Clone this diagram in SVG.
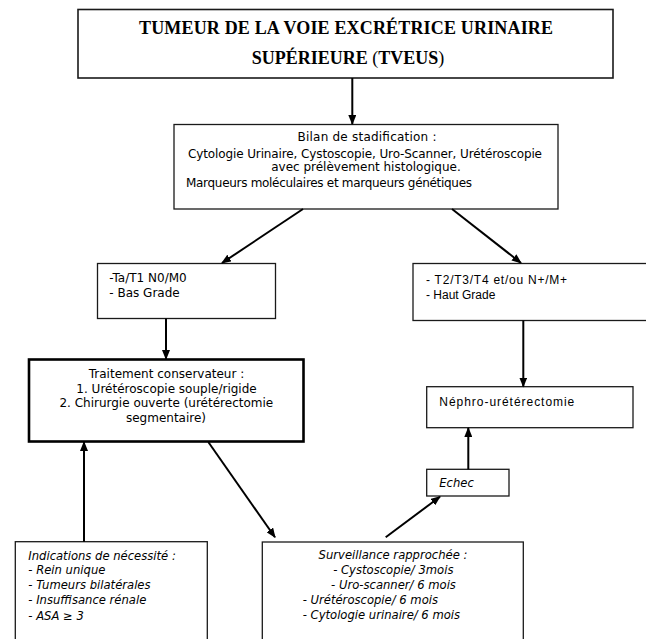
<svg xmlns="http://www.w3.org/2000/svg" width="646" height="639" viewBox="0 0 646 639">
<style>
.box{fill:#fff;stroke:#1a1a1a;stroke-width:1.3}
.thick{fill:#fff;stroke:#000;stroke-width:2.6}
.t{font-family:"DejaVu Sans",Verdana,sans-serif;font-size:12px;fill:#000}
.i{font-family:"DejaVu Sans",Verdana,sans-serif;font-size:11.6px;font-style:italic;fill:#000}
.a{font-family:"Liberation Sans",Arial,sans-serif;font-size:12px;fill:#000}
.title{font-family:"Liberation Serif","Times New Roman",serif;font-size:18px;font-weight:bold;fill:#000}
.c{text-anchor:middle}
.conn line{stroke:#000;stroke-width:2;fill:none;marker-end:url(#ah)}
</style>
<defs>
<marker id="ah" viewBox="0 0 10 8" refX="9" refY="4" markerWidth="10" markerHeight="8" markerUnits="userSpaceOnUse" orient="auto">
<path d="M0,0 L10,4 L0,8 z" fill="#000"/>
</marker>
</defs>
<rect width="646" height="639" fill="#fff"/>

<g id="title">
<rect class="box" x="78" y="9.5" width="535" height="68.5" style="stroke-width:1.6"/>
<text class="title c" x="346" y="33.5" textLength="414">TUMEUR DE LA VOIE EXCRÉTRICE URINAIRE</text>
<text class="title c" x="348" y="63.5">SUPÉRIEURE <tspan font-weight="normal">(</tspan>TVEUS<tspan font-weight="normal">)</tspan></text>
</g>

<g id="bilan">
<rect class="box" x="174" y="124.5" width="384" height="84.5"/>
<text class="t c" x="367" y="141" textLength="139">Bilan de stadification :</text>
<text class="t c" x="365" y="157.7" textLength="354">Cytologie Urinaire, Cystoscopie, Uro-Scanner, Urétéroscopie</text>
<text class="t c" x="366" y="170.5">avec prélèvement histologique.</text>
<text class="t" x="186" y="187" textLength="286">Marqueurs moléculaires et marqueurs génétiques</text>
</g>

<g id="bas">
<rect class="box" x="97.5" y="263.5" width="178" height="55"/>
<text class="t" x="109.3" y="282">-Ta/T1 N0/M0</text>
<text class="t" x="109.3" y="297">- Bas Grade</text>
</g>

<g id="haut">
<rect class="box" x="413" y="263.5" width="250" height="57"/>
<text class="a" x="426" y="283.5" textLength="141">- T2/T3/T4 et/ou N+/M+</text>
<text class="a" x="426" y="299">- Haut Grade</text>
</g>

<g id="traitement">
<rect class="thick" x="29" y="359.5" width="274.5" height="82"/>
<text class="t c" x="166.5" y="378">Traitement conservateur :</text>
<text class="t c" x="166.5" y="392.7">1. Urétéroscopie souple/rigide</text>
<text class="t c" x="166.3" y="407.3">2. Chirurgie ouverte (urétérectomie</text>
<text class="t c" x="166" y="421.8">segmentaire)</text>
</g>

<g id="nephro">
<rect class="box" x="426.7" y="386.7" width="206.3" height="41"/>
<text class="a" x="439.3" y="405.5" textLength="135">Néphro-urétérectomie</text>
</g>

<g id="echec">
<rect class="box" x="426.7" y="469.3" width="82.3" height="26.7"/>
<text class="i" x="439.3" y="486.7">Echec</text>
</g>

<g id="indications">
<rect class="box" x="15.3" y="541.7" width="192" height="110"/>
<text class="i" x="28.3" y="559.7">Indications de nécessité :</text>
<text class="i" x="28.3" y="574.3">- Rein unique</text>
<text class="i" x="28.3" y="589">- Tumeurs bilatérales</text>
<text class="i" x="28.3" y="604">- Insuffisance rénale</text>
<text class="i" x="28.3" y="619.7">- ASA ≥ 3</text>
</g>

<g id="surveillance">
<rect class="box" x="262.3" y="542" width="261" height="110"/>
<text class="i c" x="393" y="559">Surveillance rapprochée :</text>
<text class="i c" x="393.3" y="574.3">- Cystoscopie/ 3mois</text>
<text class="i c" x="393.5" y="589">- Uro-scanner/ 6 mois</text>
<text class="i" x="302.7" y="604.3">- Urétéroscopie/ 6 mois</text>
<text class="i" x="302.7" y="619">- Cytologie urinaire/ 6 mois</text>
</g>

<g id="connectors" class="conn">
<line x1="352.3" y1="78" x2="352.3" y2="124"/>
<line x1="303" y1="209" x2="222" y2="263"/>
<line x1="452" y1="209" x2="521" y2="263"/>
<line x1="166" y1="318.5" x2="166" y2="359"/>
<line x1="523.3" y1="320.5" x2="523.3" y2="386.5"/>
<line x1="84" y1="541.7" x2="84" y2="442"/>
<line x1="208.3" y1="442" x2="275" y2="537.3"/>
<line x1="385.7" y1="537.3" x2="440" y2="496.7"/>
<line x1="468.3" y1="469.3" x2="468.3" y2="428"/>
</g>
</svg>
